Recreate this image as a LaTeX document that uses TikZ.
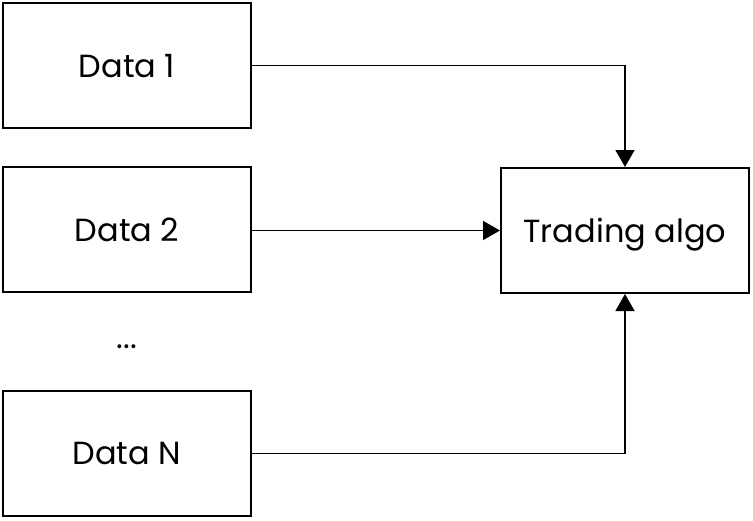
\documentclass[tikz,border=0pt]{standalone}
\usepackage{fontspec}
\setmainfont{Poppins}
\usetikzlibrary{arrows.meta}
\begin{document}
\begin{tikzpicture}[x=1pt,y=-1pt,
  box/.style={draw=black, line width=2pt, minimum width=248pt, minimum height=125pt, inner sep=0pt, font=\fontsize{32}{38}\selectfont, text depth=0pt},
  conn/.style={line width=1.6pt, -{Triangle[width=19pt,length=17pt]}}]
\useasboundingbox (0,0) rectangle (753,520);
\node[box] (d1) at (127,65.5) {Data 1};
\node[box] (d2) at (127,229.5) {Data 2};
\node[box] (dn) at (127,453.5) {Data N};
\node[box] (ta) at (625,230.5) {Trading algo};
\node[font=\fontsize{32}{38}\selectfont] (dots) at (127,347) {...};
\draw[conn] (d1.east) -| (ta.north);
\draw[conn] (d2.east |- ta.west) -- (ta.west);
\draw[conn] (dn.east) -| (ta.south);
\end{tikzpicture}
\end{document}
